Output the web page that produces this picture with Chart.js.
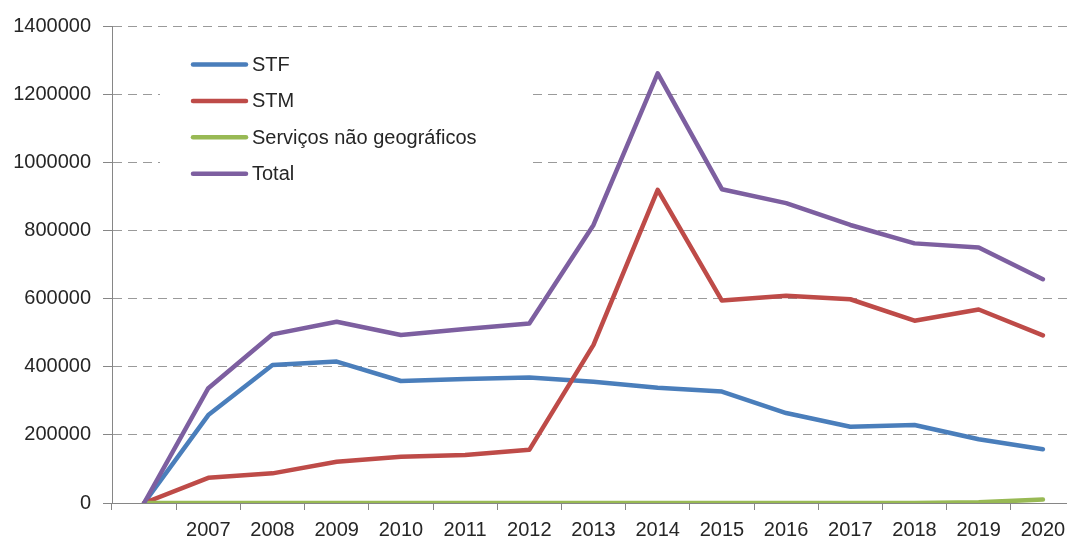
<!DOCTYPE html>
<html>
<head>
<meta charset="utf-8">
<script src="https://cdn.jsdelivr.net/npm/chart.js@4.4.0/dist/chart.umd.min.js"></script>
<style>
  html, body { margin: 0; padding: 0; background: #fff; overflow: hidden; }
  #wrap { width: 1067px; height: 538px; overflow: hidden; }
</style>
</head>
<body>
<div id="wrap"><canvas id="chart" width="1075" height="538"></canvas></div>
<script>
// categories (first slot is the empty start point)
const years = ["", "2007", "2008", "2009", "2010", "2011", "2012", "2013", "2014", "2015", "2016", "2017", "2018", "2019", "2020"];

const stf = [0, 258000, 405000, 415000, 358000, 364000, 368000, 356000, 338000, 327000, 264000, 224000, 229000, 187000, 158000];
const stm = [0, 74000, 87000, 121000, 136000, 141000, 156000, 464000, 919000, 594000, 608000, 598000, 535000, 568000, 492000];
const naoGeo = [0, 0, 0, 0, 0, 0, 0, 0, 0, 0, 0, 0, 0, 2000, 10000];
const total = [0, 337000, 495000, 532000, 493000, 511000, 527000, 816000, 1261000, 921000, 880000, 816000, 762000, 750000, 657000];

const seriesNames = ["STF", "STM", "Serviços não geográficos", "Total"];
const seriesColors = ["#4A7EBB", "#BE4B48", "#98B954", "#7D5FA0"];

const FONT = "'Liberation Sans', Arial, sans-serif";
const textColor = "#262626";
const axisColor = "#868686";

// legend drawn inside the plot on a white box, like the original
const insideLegend = {
    id: "insideLegend",
    afterDatasetsDraw(chart) {
        const ctx = chart.ctx;
        ctx.save();
        ctx.fillStyle = "#ffffff";
        ctx.fillRect(160, 42, 372, 154);
        ctx.font = "20px " + FONT;
        ctx.textBaseline = "middle";
        ctx.textAlign = "left";
        seriesNames.forEach((name, i) => {
            const y = 64.5 + i * 36.4;
            ctx.strokeStyle = seriesColors[i];
            ctx.lineWidth = 4.5;
            ctx.lineCap = "round";
            ctx.beginPath();
            ctx.moveTo(193, y);
            ctx.lineTo(246, y);
            ctx.stroke();
            ctx.fillStyle = textColor;
            ctx.fillText(name, 252, y + 1);
        });
        ctx.restore();
    }
};

const dataLists = [stf, stm, naoGeo, total];

new Chart(document.getElementById("chart"), {
    type: "line",
    data: {
        labels: years,
        datasets: dataLists.map((d, i) => ({
            label: seriesNames[i],
            data: d,
            borderColor: seriesColors[i],
            backgroundColor: seriesColors[i],
            borderWidth: 4.5,
            pointRadius: 0,
            tension: 0,
            borderCapStyle: "round",
            borderJoinStyle: "round",
            order: 3 - i
        }))
    },
    options: {
        responsive: false,
        animation: false,
        layout: { padding: { top: 26, right: 0, left: 0, bottom: 0 } },
        plugins: {
            legend: { display: false },
            tooltip: { enabled: false }
        },
        scales: {
            x: {
                type: "category",
                offset: true,
                grid: {
                    offset: true,
                    drawOnChartArea: false,
                    drawTicks: true,
                    tickLength: 7,
                    color: axisColor
                },
                border: { color: axisColor, width: 1 },
                ticks: {
                    autoSkip: false,
                    maxRotation: 0,
                    padding: 8,
                    color: textColor,
                    font: { family: FONT, size: 20 }
                },
                afterFit(scale) { scale.height = 35; }
            },
            y: {
                min: 0,
                max: 1400000,
                ticks: {
                    stepSize: 200000,
                    padding: 12,
                    color: textColor,
                    font: { family: FONT, size: 20 },
                    callback: v => String(v)
                },
                grid: {
                    color: "#9A9A9A",
                    lineWidth: 1,
                    tickColor: axisColor,
                    tickLength: 9,
                    tickBorderDash: []
                },
                border: { color: axisColor, width: 1, dash: [9, 6] },
                afterFit(scale) { scale.width = 112; }
            }
        }
    },
    plugins: [insideLegend]
});
</script>
</body>
</html>
